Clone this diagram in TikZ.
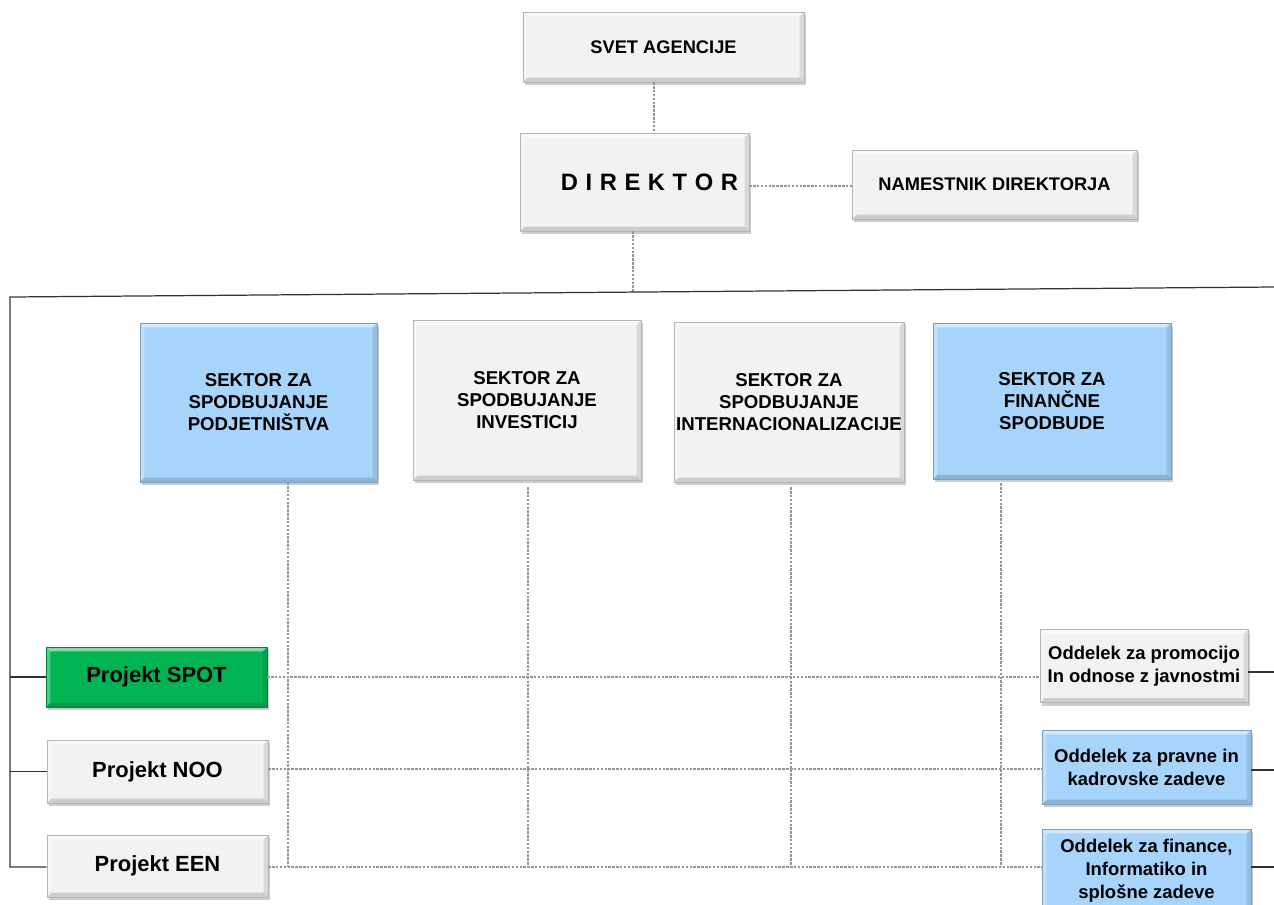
\documentclass[tikz,border=0pt]{standalone}
\usepackage{fontspec}
\setmainfont{Liberation Sans}
\usetikzlibrary{shadows,calc}

\definecolor{boxgray}{RGB}{242,242,242}
\definecolor{boxblue}{RGB}{166,212,250}
\definecolor{boxgreen}{RGB}{0,180,84}
\definecolor{dotgray}{RGB}{150,150,150}
\definecolor{solidgray}{RGB}{50,50,50}

\begin{document}
\begin{tikzpicture}[x=0.02cm,y=-0.02cm,
  bevel/.style={path picture={
      \coordinate (bnw) at (path picture bounding box.north west);
      \coordinate (bne) at (path picture bounding box.north east);
      \coordinate (bsw) at (path picture bounding box.south west);
      \coordinate (bse) at (path picture bounding box.south east);
      \fill[white,opacity=0.5] (bnw) -- (bne) -- ($(bne)+(-2.5pt,-2.5pt)$) -- ($(bnw)+(2.5pt,-2.5pt)$) -- cycle;
      \fill[white,opacity=0.3] (bnw) -- (bsw) -- ($(bsw)+(2.5pt,2.5pt)$) -- ($(bnw)+(2.5pt,-2.5pt)$) -- cycle;
      \fill[black,opacity=0.1] (bne) -- (bse) -- ($(bse)+(-2.5pt,2.5pt)$) -- ($(bne)+(-2.5pt,-2.5pt)$) -- cycle;
      \fill[black,opacity=0.15] (bsw) -- (bse) -- ($(bse)+(-2.5pt,2.5pt)$) -- ($(bsw)+(2.5pt,2.5pt)$) -- cycle;
    }},
  orgbox/.style={fill=#1, draw=#1!75!black, line width=0.3pt, bevel,
    drop shadow={shadow xshift=1pt,shadow yshift=-1.8pt,opacity=0.4},
    align=center, inner sep=0pt, font=\bfseries},
  wbox/.style={orgbox=boxgray},
  bbox/.style={orgbox=boxblue},
  gbox/.style={orgbox=boxgreen},
  sz/.style 2 args={minimum width=#1*0.02cm, minimum height=#2*0.02cm},
  dotline/.style={draw=dotgray, line width=0.6pt, dash pattern=on 1.4pt off 0.8pt},
  solidline/.style={draw=solidgray, line width=0.7pt},
  sectorfont/.style={font=\fontsize{10.6}{12.5}\selectfont\bfseries},
  deptfont/.style={font=\fontsize{10.5}{13.2}\selectfont\bfseries},
  projfont/.style={font=\fontsize{12.5}{15}\selectfont\bfseries}
]
\useasboundingbox (0,0) rectangle (1274,904);

% top management
\node[wbox, sz={281}{70}, font=\fontsize{10.4}{12}\selectfont\bfseries] (svet) at (663.5,47) {SVET AGENCIJE};
\node[wbox, sz={229}{98}, font=\fontsize{13.5}{16}\selectfont\bfseries] (dir) at (634.5,182) {\hspace*{17pt}D\hspace{0.32em}I\hspace{0.32em}R\hspace{0.32em}E\hspace{0.32em}K\hspace{0.32em}T\hspace{0.32em}O\hspace{0.32em}R};
\node[wbox, sz={285}{69}, font=\fontsize{10.4}{12}\selectfont\bfseries] (nam) at (994.5,184.5) {NAMESTNIK DIREKTORJA};

% sectors
\node[bbox, sz={237}{159}, sectorfont] (s1) at (258.5,402.5) {SEKTOR ZA\\SPODBUJANJE\\PODJETNIŠTVA};
\node[wbox, sz={228}{160}, sectorfont] (s2) at (527,400) {SEKTOR ZA\\SPODBUJANJE\\INVESTICIJ};
\node[wbox, sz={230}{160}, sectorfont] (s3) at (789,402) {SEKTOR ZA\\SPODBUJANJE\\INTERNACIONALIZACIJE};
\node[bbox, sz={238}{156}, sectorfont] (s4) at (1052,401) {SEKTOR ZA\\FINANČNE\\SPODBUDE};

% projects
\node[gbox, sz={221}{60}, projfont] (spot) at (156.5,677) {Projekt SPOT};
\node[wbox, sz={221}{63}, projfont] (noo) at (157.5,771.5) {Projekt NOO};
\node[wbox, sz={221}{62}, projfont] (een) at (157.5,866) {Projekt EEN};

% departments
\node[wbox, sz={208}{73}, deptfont] (o1) at (1144,666) {Oddelek za promocijo\\In odnose z javnostmi};
\node[bbox, sz={209}{74}, deptfont] (o2) at (1146.5,767) {Oddelek za pravne in\\kadrovske zadeve};
\node[bbox, sz={209}{84}, deptfont] (o3) at (1146.5,871) {Oddelek za finance,\\Informatiko in\\splošne zadeve};

% reference points of the trunk
\coordinate (tl) at (10,297);
\coordinate (tr) at (1274,287);
\coordinate (cs) at (654,0);
\coordinate (right) at (1274,0);
\coordinate (row) at (0,867);

% dotted links between management boxes
\draw[dotline] (svet.south -| cs) -- (dir.north -| cs);
\draw[dotline] (dir.east |- 0,186) -- (nam.west |- 0,186);
\draw[dotline] (dir.south) ++(-1.5,0) -- ++(0,61);

% main solid trunk
\draw[solidline] (tr) -- (tl) |- (een.west |- row);
\draw[solidline] (tl |- spot.west) -- (spot.west);
\draw[solidline] (tl |- noo.west) -- (noo.west);

% department stubs to the right edge
\draw[solidline] (o1.east |- 0,672) -- (right |- 0,672);
\draw[solidline] (o2.east |- 0,770) -- (right |- 0,770);
\draw[solidline] (o3.east |- 0,867) -- (right |- 0,867);

% sector verticals
\draw[dotline] ([xshift=29.5*0.02cm]s1.south) -- ([xshift=29.5*0.02cm]s1.south |- row);
\draw[dotline] ([xshift=1*0.02cm,yshift=-7*0.02cm]s2.south) -- ([xshift=1*0.02cm]s2.south |- row);
\draw[dotline] ([xshift=2*0.02cm,yshift=-5*0.02cm]s3.south) -- ([xshift=2*0.02cm]s3.south |- row);
\draw[dotline] ([xshift=-51*0.02cm,yshift=-4*0.02cm]s4.south) -- ([xshift=-51*0.02cm]s4.south |- row);

% project rows across to departments
\draw[dotline] (spot.east) -- (o1.west |- spot.east);
\draw[dotline] (noo.east |- 0,769) -- (o2.west |- 0,769);
\draw[dotline] (een.east |- row) -- (o3.west |- row);
\end{tikzpicture}
\end{document}
